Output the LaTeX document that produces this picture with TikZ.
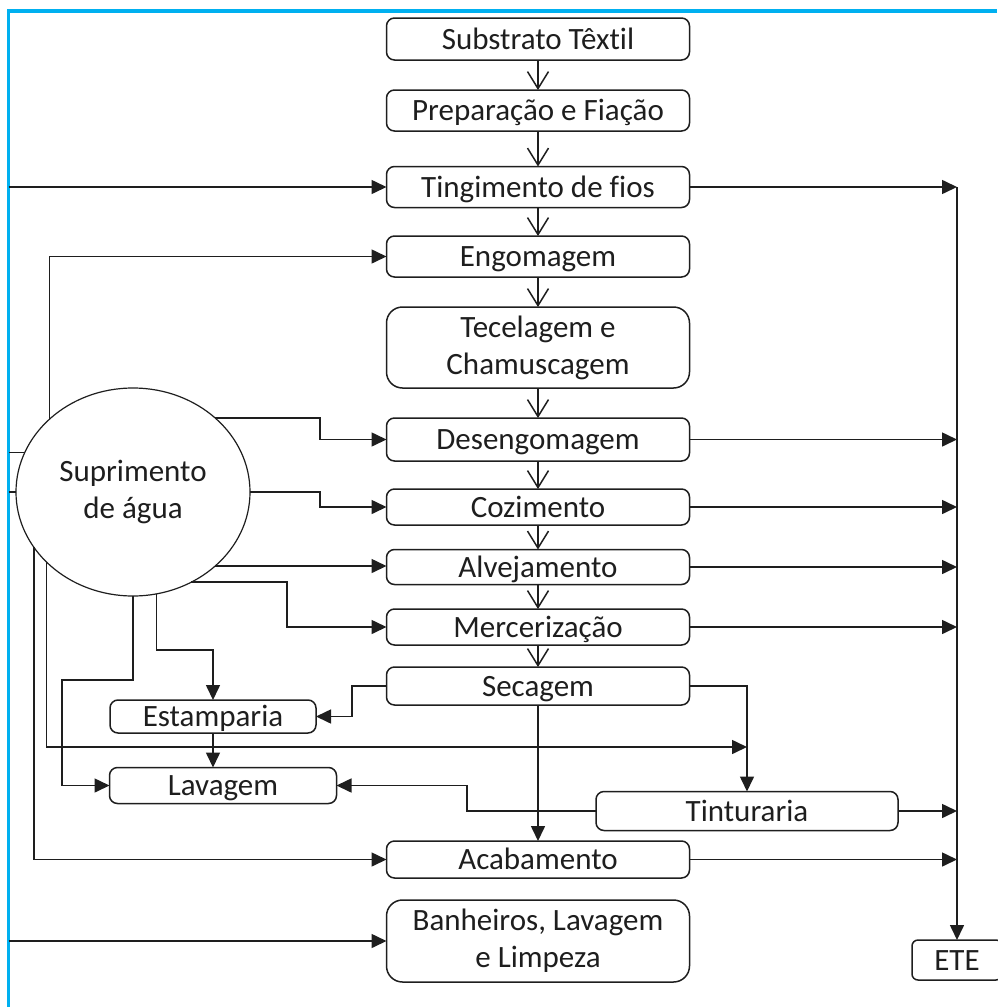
\documentclass[tikz,border=0pt]{standalone}
\usepackage{fontspec}
\setmainfont{Carlito}[Ligatures={NoCommon,TeX}]
\usetikzlibrary{arrows.meta,shapes.geometric}
\definecolor{frameblue}{RGB}{0,176,240}
\definecolor{ink}{RGB}{30,30,30}
\tikzset{
    base/.style={draw=ink, line width=1.5pt, text=ink, inner sep=0pt, outer sep=0pt,
        font=\fontsize{31}{37}\selectfont},
    proc/.style={base, rounded corners=8pt, minimum width=303pt, minimum height=41pt,
        text height=24pt, text depth=4pt},
    bigproc/.style={base, rounded corners=16pt, minimum width=303pt, minimum height=81pt,
        align=center},
    pipe/.style={draw=ink, line width=1.6pt},
    flow/.style={pipe, -{Triangle[length=15pt,width=14pt]}},
    down/.style={draw=ink, line width=1.5pt, -{Straight Barb[length=17pt,width=21pt]}},
}

\begin{document}
\begin{tikzpicture}[x=1pt,y=-1pt]
    \useasboundingbox (0,0) rectangle (997,1007);
    \draw[frameblue, line width=3.5pt] (997,11) -- (8.5,11) coordinate(frame) -- (8.5,1007);

    % main line
    \node[proc, minimum height=42pt] (sub) at (538,39) {Substrato Têxtil};
    \node[proc] (prep) at (538,110.5) {Preparação e Fiação};
    \node[proc] (ting) at (538,187) {Tingimento de fios};
    \node[proc] (eng) at (538,256.5) {Engomagem};
    \node[bigproc] (tec) at (538,347.5) {Tecelagem e\\Chamuscagem};
    \node[proc, minimum height=43pt] (des) at (538,439.5) {Desengomagem};
    \node[proc, minimum height=36pt] (coz) at (538,507) {Cozimento};
    \node[proc, minimum height=35pt] (alv) at (538,567) {Alvejamento};
    \node[proc, minimum height=36pt] (mer) at (538,627) {Mercerização};
    \node[proc, minimum height=38pt] (sec) at (538,686) {Secagem};
    \node[proc, minimum width=206pt, minimum height=33pt] (est) at (213,716.5) {Estamparia};
    \node[proc, minimum width=227pt, minimum height=36pt] (lav) at (223,785.5) {Lavagem};
    \node[proc, minimum width=302pt, minimum height=39pt] (tin) at (747,811) {Tinturaria};
    \node[proc, minimum height=37pt] (aca) at (538,859.5) {Acabamento};
    \node[bigproc, minimum height=82pt] (ban) at (538,941) {Banheiros, Lavagem\\e Limpeza};
    \node[proc, rounded corners=6pt, minimum width=90pt, minimum height=40pt] (ete) at (957,960) {ETE};
    \node[base, ellipse, line width=1.2pt, minimum width=234pt, minimum height=208pt,
        align=center] (sup) at (133,492) {Suprimento\\de água};

    \foreach \a/\b in {sub/prep,prep/ting,ting/eng,eng/tec,tec/des,des/coz,coz/alv,alv/mer,mer/sec}
        \draw[down] (\a.south) -- (\b.north);

    % efluentes para a ETE
    \draw[flow] (ting.east -| ete.north) -- (ete.north);
    \foreach \n in {ting,des,coz,alv,mer,tin,aca}
        \draw[flow] (\n.east) -- (\n.east -| ete.north);

    % agua
    \draw[flow] (ting.west -| frame) -- (ting.west);
    \draw[flow] (ban.west -| frame) -- (ban.west);
    \draw[pipe] (sup.160) -- (sup.160 -| frame);
    \draw[pipe] (sup.west) -- (sup.west -| frame);
    \draw[flow] (sup.139) |- (eng.west);
    \draw[flow] (sup.42) -| (320,0 |- des.west) -- (des.west);
    \draw[flow] (sup.east) -| (320,0 |- coz.west) -- (coz.west);
    \draw[flow] (sup.318) -- (sup.318 -| alv.west);
    \draw[flow] (sup.303) -| (287,0 |- mer.west) -- (mer.west);
    \draw[flow] (sup.283) |- (est.north |- 0,650) -- (est.north);
    \draw[flow] (sup.south) |- (62,680) |- (lav.west);
    \draw[flow] (sup.219) |- (tin.north |- 0,747);
    \draw[flow] (sup.209) |- (aca.west);

    % secagem
    \draw[flow] (sec.west) -| (352,0 |- est.east) -- (est.east);
    \draw[flow] (sec.south) -- (aca.north);
    \draw[flow] (sec.east) -| (tin.north);
    \draw[flow] (tin.west) -| (467,0 |- lav.east) -- (lav.east);
    \draw[flow] (est.south) -- (est.south |- lav.north);
\end{tikzpicture}
\end{document}
